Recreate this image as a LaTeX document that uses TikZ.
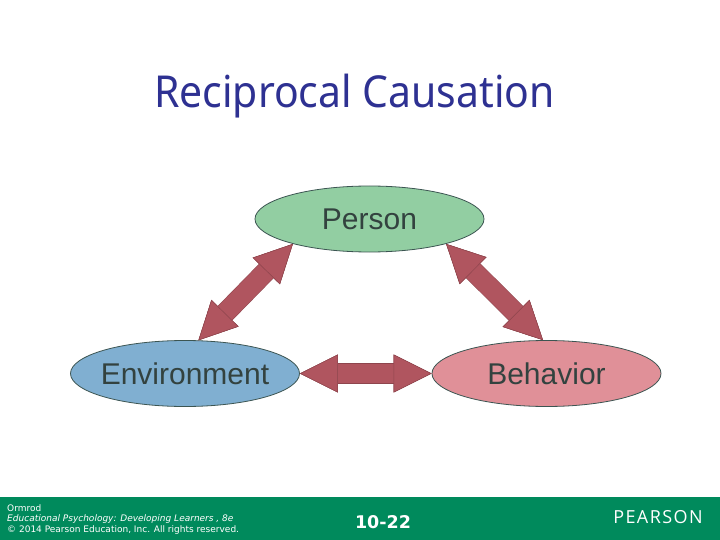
\documentclass[tikz,border=0pt]{standalone}
\usepackage{fontspec}
\setmainfont{Noto Sans}
\newfontfamily\labelfont{Liberation Sans}
\newfontfamily\footfont{DejaVu Sans}
\newfontfamily\brandfont[LetterSpace=8]{Open Sans}
\usetikzlibrary{arrows.meta,shapes.geometric}

\definecolor{titleblue}{HTML}{2E3192}
\definecolor{footgreen}{HTML}{008A5C}
\definecolor{arrowred}{HTML}{B0555F}
\definecolor{arrowedge}{HTML}{8E454D}
\definecolor{ovaledge}{HTML}{3C5552}
\definecolor{ovaltext}{HTML}{33423F}
\definecolor{persongreen}{HTML}{92CEA2}
\definecolor{envblue}{HTML}{80AFD1}
\definecolor{behavpink}{HTML}{E09098}

\tikzset{
  oval/.style={ellipse, draw=ovaledge, line width=0.8pt, minimum width=229pt, minimum height=66pt,
    inner sep=-6pt, text=ovaltext, font=\labelfont\fontsize{30}{32}\selectfont},
  twohead/.style={{Triangle[length=38pt,width=38pt,color=arrowedge,fill=arrowred,line width=0.5pt]}-{Triangle[length=38pt,width=38pt,color=arrowedge,fill=arrowred,line width=0.5pt]},
    line width=19.5pt, draw=arrowred, preaction={draw=arrowedge, line width=20.5pt}},
  footline/.style={inner sep=0pt, text=white, anchor=west, font=\footfont\fontsize{9}{10.2}\selectfont, align=left}
}

\begin{document}
\begin{tikzpicture}[x=1pt,y=-1pt]

  \useasboundingbox (0,0) rectangle (720,540);
  \fill[white] (0,0) rectangle (720,540);

  % Title
  \node[text=titleblue, font=\fontsize{44}{48}\selectfont, inner sep=0pt] (title) at (354.5,96)
    {\scalebox{0.93}[1]{Reciprocal Causation}};

  % Three ovals
  \node[oval, fill=persongreen] (person) at (369.5,219) {Person};
  \node[oval, fill=envblue] (environment) at (185,373.5) {Environment};
  \node[oval, fill=behavpink] (behavior) at (546.5,373.5) {Behavior};

  % Arrows between ovals
  \draw[twohead] (person.198) -- (environment.68);
  \draw[twohead] (person.-18) -- (behavior.96);
  \draw[twohead] (environment.east) -- (behavior.west);

  % Footer
  \fill[footgreen] (0,497) rectangle (720,540);
  \node[footline] (author) at (7,508.5) {Ormrod};
  \node[footline] (book) at (7,519.5) {\itshape Educational Psychology: Developing Learners , 8e};
  \node[footline] (rights) at (7,530) {© 2014 Pearson Education, Inc. All rights reserved.};
  \node[text=white, inner sep=0pt, font=\footfont\bfseries\fontsize{17.5}{22}\selectfont] (page) at (383,522.5) {10-22};
  \node[text=white, inner sep=0pt, font=\brandfont\fontsize{18}{22}\selectfont] (brand) at (658,517) {PEARSON};

\end{tikzpicture}
\end{document}
